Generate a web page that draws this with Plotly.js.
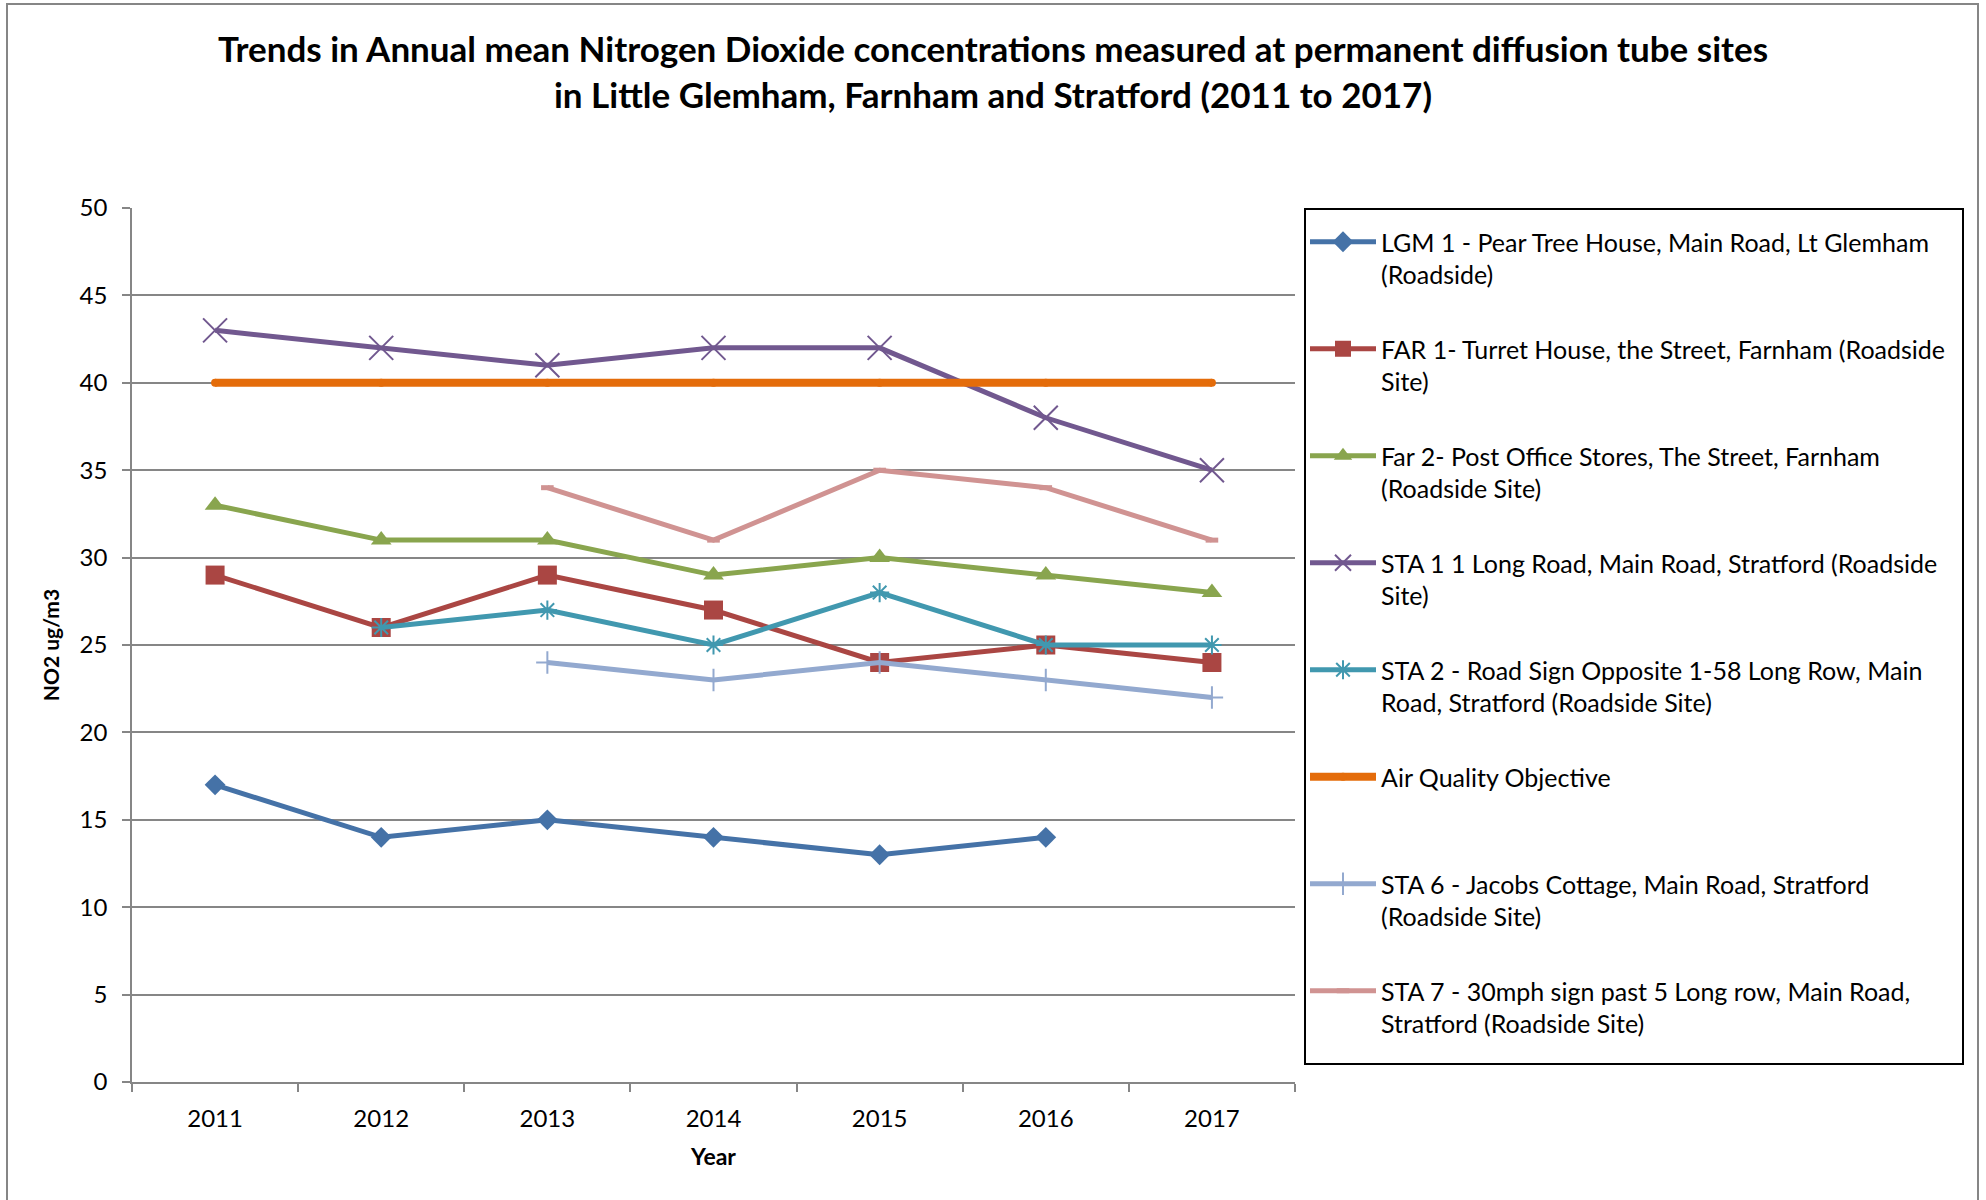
<!DOCTYPE html>
<html><head><meta charset="utf-8">
<script src="https://cdn.plot.ly/plotly-3.0.1.min.js"></script>
<style>html,body{margin:0;padding:0;background:#fff;}#chart{width:1986px;height:1200px;}</style>
</head><body><div id="chart"></div>
<script>
// ---- data ----
const years = ['2011', '2012', '2013', '2014', '2015', '2016', '2017'];
const lgm1 = [17, 14, 15, 14, 13, 14, null];
const far1 = [29, 26, 29, 27, 24, 25, 24];
const far2 = [33, 31, 31, 29, 30, 29, 28];
const sta1 = [43, 42, 41, 42, 42, 38, 35];
const sta2 = [null, 26, 27, 25, 28, 25, 25];
const aqo  = [40, 40, 40, 40, 40, 40, 40];
const sta6 = [null, null, 24, 23, 24, 23, 22];
const sta7 = [null, null, 34, 31, 35, 34, 31];

const seriesNames = [
  'LGM 1 - Pear Tree House, Main Road, Lt Glemham<br>(Roadside)',
  'FAR 1- Turret House, the Street, Farnham (Roadside<br>Site)',
  'Far 2- Post Office Stores, The Street, Farnham<br>(Roadside Site)',
  'STA 1 1 Long Road, Main Road, Stratford (Roadside<br>Site)',
  'STA 2 - Road Sign Opposite 1-58 Long Row, Main<br>Road, Stratford (Roadside Site)',
  'Air Quality Objective<br> ',
  'STA 6 - Jacobs Cottage, Main Road, Stratford<br>(Roadside Site)',
  'STA 7 - 30mph sign past 5 Long row, Main Road,<br>Stratford (Roadside Site)'
];

const FONT = 'Lato, "Open Sans", sans-serif';
const LW = 5;

function tr(i, y, color, marker, lw) {
  return {
    type: 'scatter', mode: marker ? 'lines+markers' : 'lines',
    x: years, y: y, name: seriesNames[i], legendgroup: 'g' + i,
    line: {color: color, width: lw || LW},
    marker: marker || undefined,
    connectgaps: false, hoverinfo: 'x+y'
  };
}

const traces = [
  tr(0, lgm1, '#4572A7', {symbol: 'diamond', size: 16, color: '#4572A7'}),
  tr(1, far1, '#AA4643', {symbol: 'square', size: 19, color: '#AA4643'}),
  tr(2, far2, '#89A54E', {symbol: 'triangle-up', size: 18, color: '#89A54E'}),
  tr(3, sta1, '#71588F', {symbol: 'x-thin-open', size: 24, color: '#71588F', line: {color: '#71588F', width: 2}}),
  tr(4, sta2, '#4198AF', {symbol: 'asterisk-open', size: 16, color: '#4198AF', line: {color: '#4198AF', width: 2}}),
  tr(5, aqo,  '#E46C0A', {symbol: 'circle', size: 8, color: '#E46C0A'}, 8),
  tr(6, sta6, '#93A9CF', {symbol: 'cross-thin-open', size: 16, color: '#93A9CF', line: {color: '#93A9CF', width: 2}}),
  tr(7, sta7, '#D09392', {symbol: 'line-ew-open', size: 9, color: '#D09392', line: {color: '#D09392', width: 5}})
];

// plot area in pixels: x 132..1295, y 208..1082
const PL = 132, PR = 1295, PT = 208, PB = 1082, W = 1986, H = 1200;
const pw = PR - PL, ph = PB - PT;
const px = X => (X - PL) / pw;
const py = Y => (PB - Y) / ph;

const layout = {
  width: W, height: H,
  margin: {l: PL, r: W - PR, t: PT, b: H - PB, pad: 0},
  paper_bgcolor: '#ffffff', plot_bgcolor: '#ffffff',
  font: {family: FONT, color: '#000000', size: 24},
  title: {
    text: 'Trends in Annual mean Nitrogen Dioxide concentrations measured at permanent diffusion tube sites<br>in Little Glemham, Farnham and Stratford (2011 to 2017)',
    x: 0.5, xref: 'container', xanchor: 'center',
    y: 1 - 62 / H, yref: 'container', yanchor: 'middle',
    font: {family: FONT, size: 35, weight: 700, color: '#000000'}
  },
  xaxis: {
    type: 'category', categoryorder: 'array', categoryarray: years,
    range: [-0.5, 6.5], showgrid: false, zeroline: false,
    showline: true, linecolor: '#868686', linewidth: 1.5,
    ticks: 'outside', tickson: 'boundaries', ticklen: 8, tickcolor: '#868686', tickwidth: 1.5,
    tickfont: {family: FONT, size: 24, color: '#000000'},
    ticklabelstandoff: 14,
    title: {text: 'Year', font: {family: FONT, size: 23, weight: 700, color: '#000000'}, standoff: 18},
    fixedrange: true
  },
  yaxis: {
    range: [0, 50], dtick: 5, tick0: 0,
    showgrid: true, gridcolor: '#868686', gridwidth: 1.5, zeroline: false,
    showline: true, linecolor: '#868686', linewidth: 1.5,
    ticks: 'outside', ticklen: 8, tickcolor: '#868686', tickwidth: 1.5,
    tickfont: {family: FONT, size: 24, color: '#000000'},
    ticklabelstandoff: 10,
    title: {text: 'NO2 ug/m3', font: {family: FONT, size: 21, weight: 700, color: '#000000'}, standoff: 14},
    fixedrange: true
  },
  showlegend: true,
  legend: {
    x: px(1305), xanchor: 'left', y: py(219), yanchor: 'top',
    bgcolor: 'rgba(0,0,0,0)', borderwidth: 0,
    font: {family: FONT, size: 25, color: '#000000'},
    itemwidth: 66, valign: 'top', traceorder: 'grouped', tracegroupgap: 39
  },
  shapes: [
    // outer chart frame
    {type: 'rect', xref: 'paper', yref: 'paper', x0: px(7), x1: px(1978), y0: py(1215), y1: py(4),
     line: {color: '#868686', width: 2}, fillcolor: 'rgba(0,0,0,0)', layer: 'below'},
    // legend frame
    {type: 'rect', xref: 'paper', yref: 'paper', x0: px(1305), x1: px(1963), y0: py(1064), y1: py(209),
     line: {color: '#000000', width: 2}, fillcolor: 'rgba(0,0,0,0)', layer: 'above'}
  ],
  hovermode: 'closest'
};

Plotly.newPlot('chart', traces, layout, {displayModeBar: false, responsive: false});
</script>
</body></html>
